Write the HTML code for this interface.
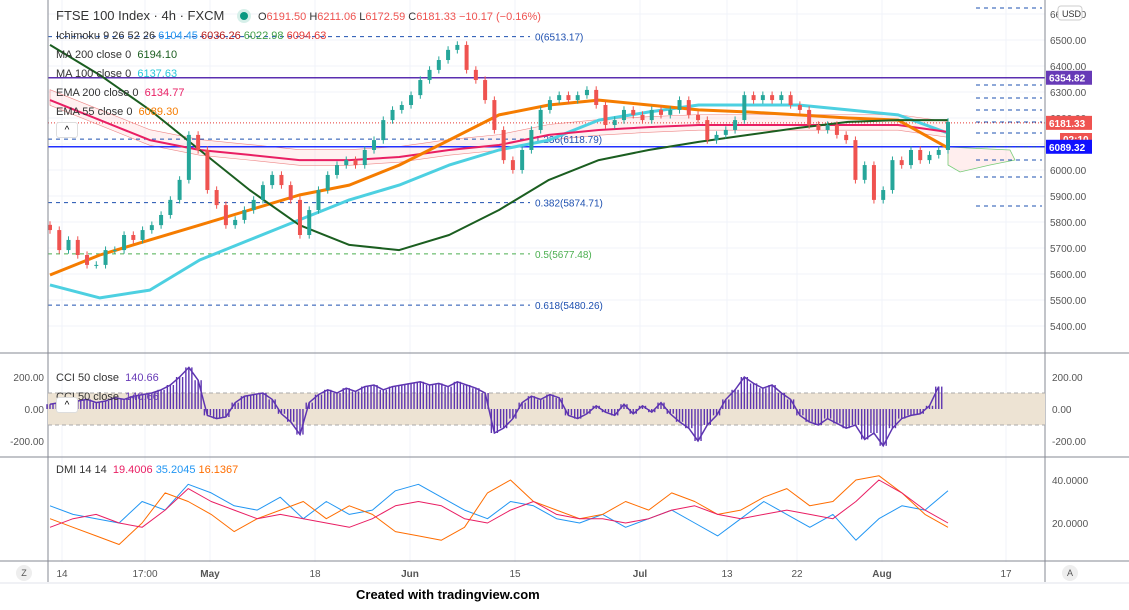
<!DOCTYPE html>
<html><head><meta charset="utf-8">
<style>
html,body{margin:0;padding:0;background:#fff;width:1129px;height:610px;overflow:hidden;font-family:"Liberation Sans",sans-serif;}
svg{position:absolute;left:0;top:0}
text{font-family:"Liberation Sans",sans-serif}
</style></head>
<body>
<svg id="c" width="1129" height="610" viewBox="0 0 1129 610"></svg>
<script>
// ---- data ----
const closes=[5769,5692,5731,5673,5635,5635,5692,5692,5750,5731,5769,5788,5827,5885,5962,6135,6077,5923,5865,5788,5808,5846,5885,5942,5981,5942,5885,5750,5846,5923,5981,6019,6038,6019,6077,6115,6192,6231,6250,6288,6346,6385,6423,6462,6481,6385,6346,6269,6154,6038,6000,6077,6154,6231,6269,6288,6269,6288,6308,6250,6173,6192,6231,6212,6192,6231,6212,6231,6269,6212,6192,6115,6135,6154,6192,6288,6269,6288,6269,6288,6250,6231,6173,6154,6173,6135,6115,5962,6019,5885,5923,6038,6019,6077,6038,6058,6077,6185];
const ma200=[6481,6365,6231,6077,5923,5788,5712,5692,5750,5846,5962,6038,6077,6108,6135,6162,6185,6192,6192];
const ma100=[5558,5508,5538,5654,5731,5808,5885,5942,6019,6077,6115,6192,6223,6250,6250,6250,6231,6212,6142];
const ema200=[6269,6192,6115,6077,6058,6038,6038,6050,6077,6096,6135,6154,6165,6173,6173,6173,6173,6173,6146];
const ema55=[5596,5673,5731,5788,5846,5904,5942,6019,6115,6212,6250,6269,6250,6231,6223,6212,6200,6192,6085];
const cci=[30,40,20,50,60,40,50,70,60,80,90,100,120,150,200,260,180,-40,-60,-50,40,80,90,100,60,-30,-80,-160,40,90,120,100,130,110,140,150,120,140,150,160,170,150,160,140,170,150,130,100,-150,-120,-60,40,80,60,90,70,-40,-60,-30,20,-20,-40,30,-30,20,-20,40,-30,-80,-120,-200,-100,-40,60,120,200,160,130,150,100,60,-40,-80,-100,-60,-90,-120,-100,-190,-150,-230,-120,-60,-40,-30,20,140];
const diPlus=[28,24,22,20,30,26,38,34,28,26,32,22,30,24,26,35,38,32,26,22,30,28,22,20,24,18,22,26,20,14,22,30,24,18,24,12,22,28,26,35];
const diMinus=[22,18,14,10,20,34,30,24,16,22,26,30,22,28,24,16,14,12,18,34,40,30,26,22,24,30,26,34,30,24,26,32,36,28,30,40,42,34,24,18];
const adx=[18,22,24,20,18,26,36,30,26,22,24,22,20,18,22,28,30,28,22,20,26,30,24,22,22,20,22,26,28,24,22,24,26,24,22,30,40,34,26,20];
const priceTicks=[6600,6500,6400,6300,6200,6100,6000,5900,5800,5700,5600,5500,5400,5300,5200];
const timeLabels=["14","17:00","May","18","Jun","15","Jul","13","22","Aug","17"];
const timeX=[62,145,210,315,410,515,640,727,797,882,1006];

// ---- scales ----
const X0=50,X1=948;
const py=p=>170-(p-6000)*0.26;
const cy=v=>409-v*0.16;
const dy=v=>523-(v-20)*2.15;
const cx=i=>X0+i*(X1-X0)/(closes.length-1);
const lx=(i,n)=>X0+i*(X1-X0)/(n-1);
const S=document.getElementById('c');
const NS='http://www.w3.org/2000/svg';
function mk(t,a,p){const e=document.createElementNS(NS,t);for(const k in a)e.setAttribute(k,a[k]);(p||S).appendChild(e);return e;}
function txt(x,y,s,fill,size,anchor,w){const e=mk('text',{x:x,y:y,fill:fill,'font-size':size||11,'text-anchor':anchor||'start'});if(w)e.setAttribute('font-weight',w);e.textContent=s;return e;}

// grid
timeX.forEach(x=>{const g=mk('line',{x1:x,y1:0,x2:x,y2:562,stroke:'#f0f3fa'});

});
priceTicks.forEach(p=>{const y=py(p);if(y>0&&y<352){const g=mk('line',{x1:48,y1:y,x2:1045,y2:y,stroke:'#f0f3fa'});

}});

// cloud (approx from ema200 band)
let up='',dn='';
ema200.forEach((v,i)=>{up+=(i?'L':'M')+lx(i,ema200.length)+' '+py(v+40);});
for(let i=ema200.length-1;i>=0;i--){dn+='L'+lx(i,ema200.length)+' '+py(ema200[i]-20);}
const cl=mk('path',{d:up+dn+'Z',fill:'rgba(255,200,200,0.25)',stroke:'#e88',"stroke-width":0.6});


const cf=mk('path',{d:'M948 147 L1010 150 L1015 160 L990 165 L960 172 L948 165Z',fill:'rgba(255,200,200,0.3)',stroke:'#7c7',"stroke-width":0.8});



// horizontal levels
const h1=mk('line',{x1:48,y1:py(6354.82),x2:1045,y2:py(6354.82),stroke:'#5b2fb0','stroke-width':1.5});


const h2=mk('line',{x1:48,y1:py(6089.32),x2:1045,y2:py(6089.32),stroke:'#2030ff','stroke-width':1.5});


const h3=mk('line',{x1:48,y1:py(6181.33),x2:1045,y2:py(6181.33),stroke:'#e53935','stroke-dasharray':'1 2'});


const fibs=[[6513.17,'0(6513.17)','#1e50b0'],[6118.79,'1.236(6118.79)','#1e50b0'],[5874.71,'0.382(5874.71)','#1e50b0'],[5677.48,'0.5(5677.48)','#4caf50'],[5480.26,'0.618(5480.26)','#1e50b0']];
fibs.forEach(f=>{const l=mk('line',{x1:48,y1:py(f[0]),x2:530,y2:py(f[0]),stroke:f[2],'stroke-dasharray':'4 4'});


const t=txt(535,py(f[0])+4,f[1],f[2],10);

});
[8,85,98,110,122,133,147,160,177,206].forEach(y=>{const l=mk('line',{x1:976,y1:y,x2:1042,y2:y,stroke:'#1e50b0','stroke-dasharray':'4 4'});

});

// moving averages
function poly(arr,f,color,w,name){let d='';arr.forEach((v,i)=>{d+=(i?'L':'M')+lx(i,arr.length).toFixed(1)+' '+f(v).toFixed(1);});const p=mk('path',{d:d,fill:'none',stroke:color,'stroke-width':w,'stroke-linejoin':'round'});return p;}
poly(ma100,py,'#4dd0e1',3,'ma100-line');
poly(ema200,py,'#e91e63',2,'ema200-line');
poly(ema55,py,'#f57c00',3,'ema55-line');
poly(ma200,py,'#1b5e20',2,'ma200-line');

// candles
closes.forEach((c,i)=>{const o=i?closes[i-1]:c+20;const x=cx(i);const col=c>=o?'#26a69a':'#ef5350';
const hi=Math.max(o,c)+14,lo=Math.min(o,c)-14;
const w=mk('line',{x1:x,y1:py(hi),x2:x,y2:py(lo),stroke:col});


const top=py(Math.max(o,c)),h=Math.max(1,Math.abs(py(o)-py(c)));
const b=mk('rect',{x:x-2,y:top,width:4,height:h,fill:col});

});

// price axis
const ax=mk('line',{x1:1045,y1:0,x2:1045,y2:582,stroke:'#868993'});


const lax=mk('line',{x1:48,y1:0,x2:48,y2:582,stroke:'#868993'});


priceTicks.forEach(p=>{const y=py(p);if(y>5&&y<352){const t=txt(1050,y+4,p.toFixed(2),'#555',10);

}});
function tag(y,label,bg,name){const r=mk('rect',{x:1046,y:y-7,width:46,height:14,fill:bg});const t=txt(1049,y+4,label,'#fff',10,'start','bold');}
tag(py(6354.82),'6354.82','#673ab7','resistance-tag');
tag(py(6181.33),'6181.33','#ef5350','last-price-tag');
const ct=mk('rect',{x:1060,y:133,width:32,height:13,fill:'#ef5350'});


const ctt=txt(1063,143,'02:10','#fff',10,'start','bold');


tag(py(6089.32),'6089.32','#1010ff','support-tag');
const usd=mk('rect',{x:1058,y:6,width:24,height:14,rx:3,fill:'#fff',stroke:'#ccc'});


const ut=txt(1062,17,'USD','#333',9);



// pane separators
[353,457,561].forEach(y=>{const l=mk('line',{x1:0,y1:y,x2:1129,y2:y,stroke:'#868993'});

});
const foot=mk('line',{x1:0,y1:583,x2:1129,y2:583,stroke:'#e0e3eb'});



// CCI pane
const band=mk('rect',{x:48,y:cy(100),width:997,height:cy(-100)-cy(100),fill:'#ede3d3'});


[100,-100].forEach(v=>{const l=mk('line',{x1:48,y1:cy(v),x2:1045,y2:cy(v),stroke:'#aaa','stroke-dasharray':'4 3'});

});
let cd='';
cci.forEach((v,i)=>{const x=cx(i);
[-3,0,3].forEach(dx=>{const b=mk('rect',{x:x+dx-0.7,y:Math.min(cy(v),cy(0)),width:1.4,height:Math.abs(cy(v)-cy(0)),fill:'#5e35b1'});

});
cd+=(i?'L':'M')+x.toFixed(1)+' '+cy(v).toFixed(1);});
const cl2=mk('path',{d:cd,fill:'none',stroke:'#5e35b1','stroke-width':1.5});


[[200,'200.00'],[0,'0.00'],[-200,'-200.00']].forEach(a=>{
const t=txt(1052,cy(a[0])+4,a[1],'#555',10);


const t2=txt(44,cy(a[0])+4,a[1],'#555',10,'end');

});

// DMI pane
poly(diPlus,dy,'#2196f3',1,'di-plus-line');
poly(diMinus,dy,'#ff6d00',1,'di-minus-line');
poly(adx,dy,'#e91e63',1,'adx-line');
[[40,'40.0000'],[20,'20.0000']].forEach(a=>{const t=txt(1052,dy(a[0])+4,a[1],'#555',10);

});

// time axis
timeLabels.forEach((s,i)=>{const t=txt(timeX[i],577,s,'#555',10,'middle',(s=='May'||s=='Jun'||s=='Jul'||s=='Aug')?'bold':null);

});
</script>
<div style="position:absolute;left:56px;top:6px;font-size:12px;color:#333;line-height:19px;">
<div style="font-size:13px;">FTSE 100 Index · 4h · FXCM <span style="display:inline-block;width:8px;height:8px;border-radius:50%;background:#089981;margin:0 10px 0 12px;box-shadow:0 0 0 3px #d6efe9"></span><span style="font-size:11px;color:#333">O<span style="color:#ef5350">6191.50</span> H<span style="color:#ef5350">6211.06</span> L<span style="color:#ef5350">6172.59</span> C<span style="color:#ef5350">6181.33 −10.17 (−0.16%)</span></span></div>
<div style="font-size:11px;">Ichimoku 9 26 52 26 <span style="color:#2196f3">6104.45</span> <span style="color:#b71c1c">6036.26</span> <span style="color:#43a047">6022.98</span> <span style="color:#e53935">6094.63</span></div>
<div style="font-size:11px;">MA 200 close 0 &nbsp;<span style="color:#1b5e20">6194.10</span></div>
<div style="font-size:11px;">MA 100 close 0 &nbsp;<span style="color:#26c6da">6137.63</span></div>
<div style="font-size:11px;">EMA 200 close 0 &nbsp;<span style="color:#e91e63">6134.77</span></div>
<div style="font-size:11px;">EMA 55 close 0 &nbsp;<span style="color:#f57c00">6089.30</span></div>
</div>
<div style="position:absolute;left:56px;top:122px;width:20px;height:14px;border:1px solid #ddd;border-radius:3px;background:#fff;font-size:10px;text-align:center;line-height:16px">^</div>
<div style="position:absolute;left:56px;top:369px;font-size:11px;color:#333;line-height:19px">CCI 50 close &nbsp;<span style="color:#673ab7">140.66</span><br>CCI 50 close &nbsp;<span style="color:#673ab7">140.66</span></div>
<div style="position:absolute;left:56px;top:397px;width:20px;height:14px;border:1px solid #ddd;border-radius:3px;background:#fff;font-size:10px;text-align:center;line-height:16px">^</div>
<div style="position:absolute;left:56px;top:464px;font-size:11px;color:#333">DMI 14 14 &nbsp;<span style="color:#e91e63">19.4006</span> <span style="color:#2196f3">35.2045</span> <span style="color:#ff6d00">16.1367</span></div>
<div style="position:absolute;left:16px;top:565px;width:16px;height:16px;border-radius:50%;background:#eee;font-size:9px;text-align:center;line-height:16px;color:#555">Z</div>
<div style="position:absolute;left:1062px;top:565px;width:16px;height:16px;border-radius:50%;background:#eee;font-size:9px;text-align:center;line-height:16px;color:#555">A</div>
<div style="position:absolute;left:356px;top:587px;font-size:13px;font-weight:bold;color:#000">Created with tradingview.com</div>
</body></html>
